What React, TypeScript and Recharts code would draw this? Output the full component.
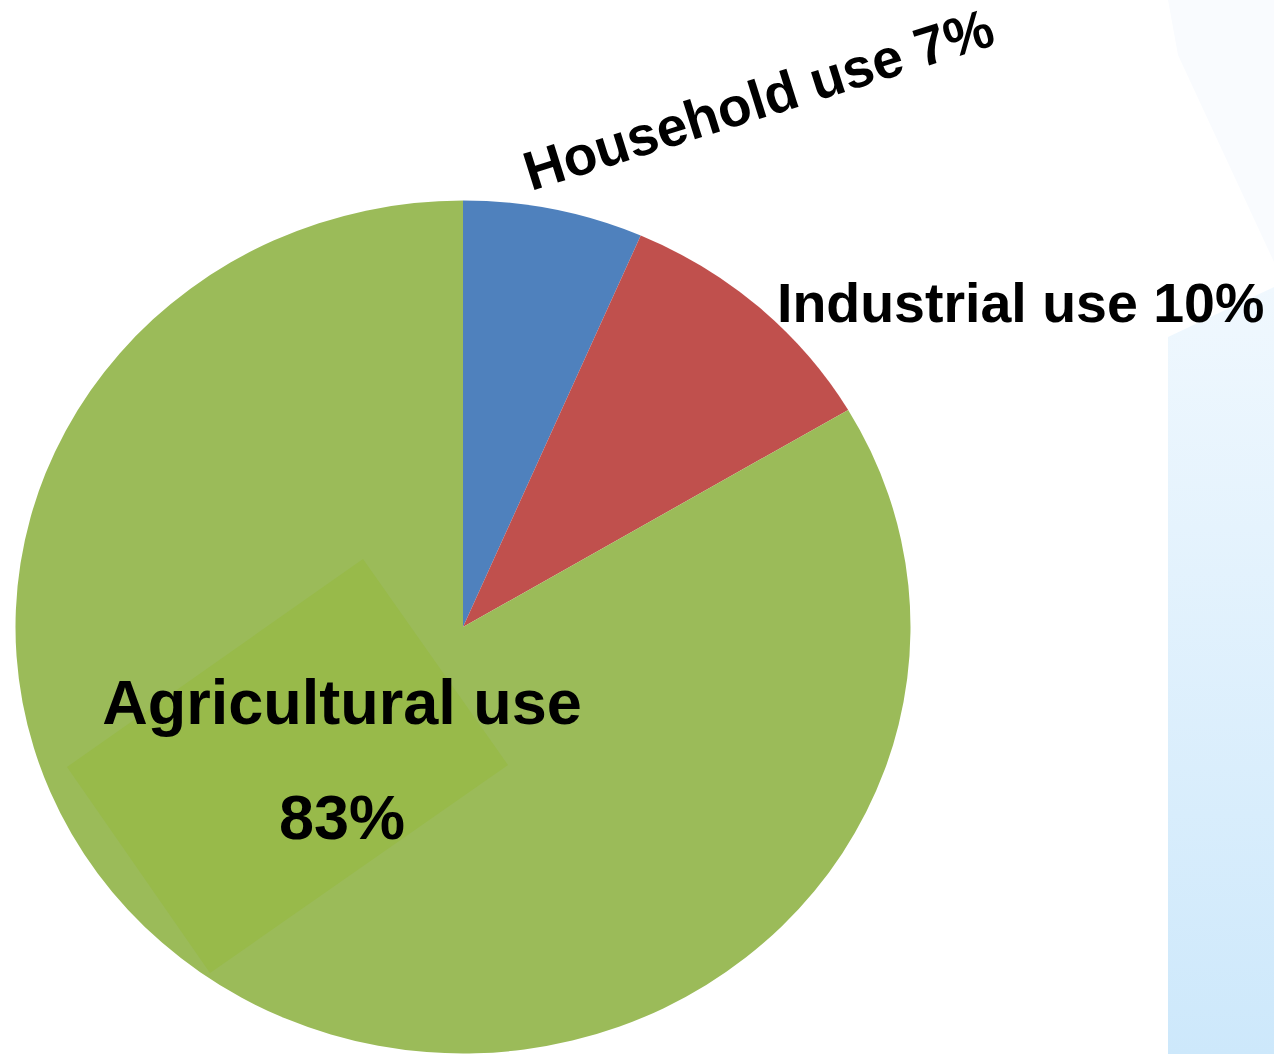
import React from 'react';
import { PieChart, Pie, Cell, Sector } from 'recharts';

const categories = ['Household use', 'Industrial use', 'Agricultural use'];
// slice sizes as drawn in the picture
const sliceValues = [6.5, 10, 83.5];
// percentages as printed in the labels
const labelShares = [7, 10, 83];
const colors = ['#4F81BD', '#C0504D', '#9BBB59'];

const data = categories.map((name, i) => ({ name, value: sliceValues[i] }));

const W = 1274;
const H = 1054;
const CX = 463;
const CY = 627;
const RY = 426.5;
const SX = 447.5 / 426.5;
const FONT = '"Liberation Sans", Arial, Helvetica, sans-serif';

const EllipseSector = (props: any) => {
  const { cx, cy } = props;
  return (
    <g transform={`translate(${cx} ${cy}) scale(${SX} 1) translate(${-cx} ${-cy})`}>
      <Sector {...props} stroke="none" />
    </g>
  );
};

const renderLabel = (props: any) => {
  const { index } = props;
  if (index === 0) {
    return (
      <text
        key="l0"
        x={531}
        y={191}
        transform="rotate(-17.5 531 191)"
        fontFamily={FONT}
        fontWeight="bold"
        fontSize={55}
        fill="#000"
      >
        {`${categories[0]} ${labelShares[0]}%`}
      </text>
    );
  }
  if (index === 1) {
    return (
      <text key="l1" x={777} y={322} fontFamily={FONT} fontWeight="bold" fontSize={55.5} fill="#000">
        {`${categories[1]} ${labelShares[1]}%`}
      </text>
    );
  }
  return (
    <g key="l2">
      <polygon points="363,559 508,765 210,973 67,767" fill="#98BA4A" />
      <text x={342} y={724} textAnchor="middle" fontFamily={FONT} fontWeight="bold" fontSize={63} fill="#000">
        {categories[2]}
      </text>
      <text x={342} y={839} textAnchor="middle" fontFamily={FONT} fontWeight="bold" fontSize={63} fill="#000">
        {`${labelShares[2]}%`}
      </text>
    </g>
  );
};

export default function App() {
  return (
    <div style={{ position: 'absolute', left: 0, top: 0, width: W, height: H, background: '#fff' }}>
      <PieChart width={W} height={H} margin={{ top: 0, right: 0, bottom: 0, left: 0 }}>
        <defs>
          <linearGradient id="panelGrad" x1="0" y1="0" x2="0" y2="1">
            <stop offset="0%" stopColor="#f0f8fe" />
            <stop offset="100%" stopColor="#cde8fb" />
          </linearGradient>
        </defs>
        <polygon points="1168,0 1274,0 1274,262 1178,55" fill="#f9fbfe" />
        <polygon points="1168,337 1274,287 1274,1054 1168,1054" fill="url(#panelGrad)" />
        <Pie
          data={data}
          dataKey="value"
          nameKey="name"
          cx={CX}
          cy={CY}
          innerRadius={0}
          outerRadius={RY}
          startAngle={90}
          endAngle={-270}
          stroke="none"
          isAnimationActive={false}
          shape={EllipseSector}
          activeShape={EllipseSector}
          inactiveShape={EllipseSector}
          label={renderLabel}
          labelLine={false}
        >
          {data.map((d, i) => (
            <Cell key={d.name} fill={colors[i]} />
          ))}
        </Pie>
      </PieChart>
    </div>
  );
}
